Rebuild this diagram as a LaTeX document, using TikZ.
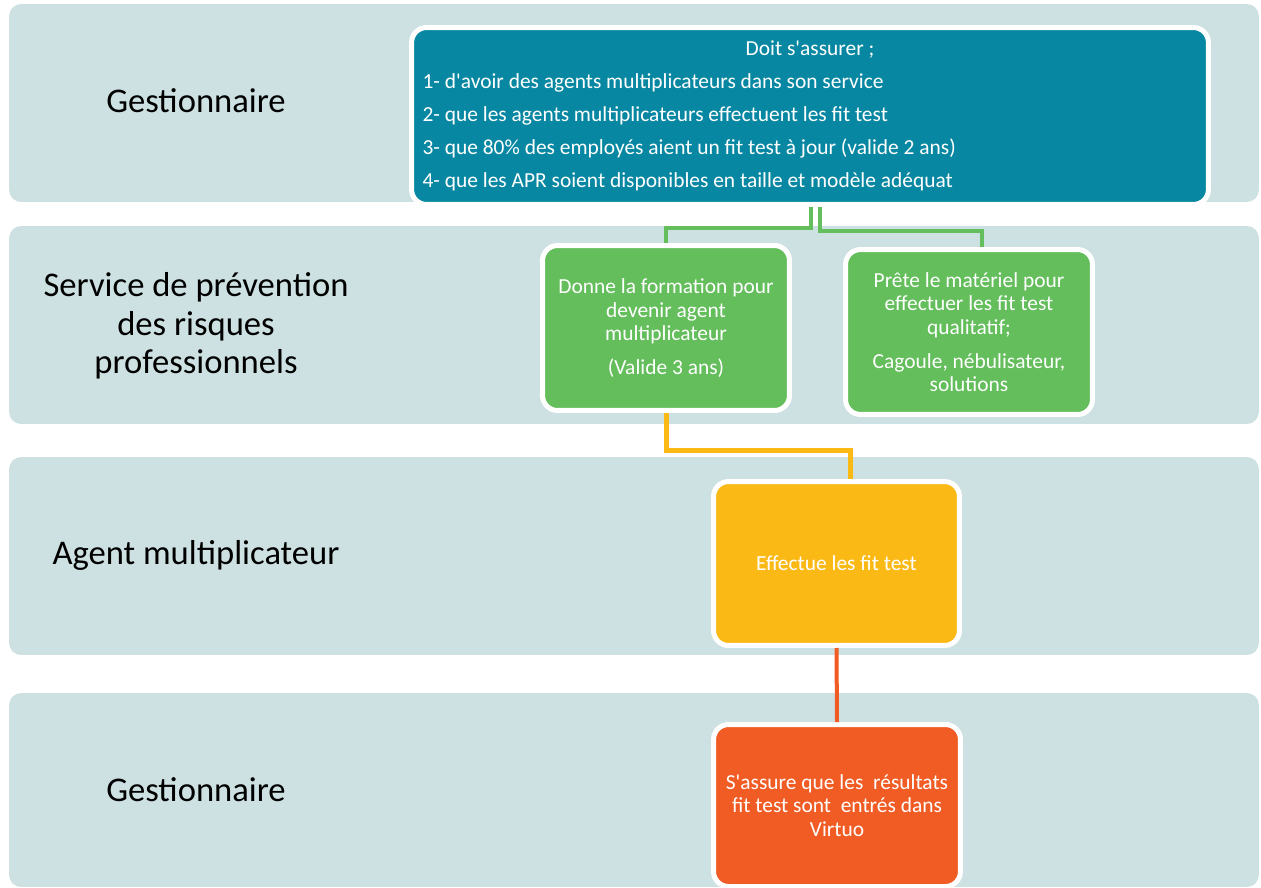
\documentclass[tikz,border=0pt]{standalone}
\usepackage{fontspec}
\setmainfont{Carlito}
\usetikzlibrary{positioning, calc}

\definecolor{lanegray}{RGB}{205,225,226}
\definecolor{dutyteal}{RGB}{8,135,162}
\definecolor{cardgreen}{RGB}{99,190,91}
\definecolor{cardyellow}{RGB}{251,185,22}
\definecolor{cardorange}{RGB}{241,91,36}

\begin{document}
\begin{tikzpicture}[
    x=0.02cm, y=-0.02cm,
    lane/.style={rectangle, fill=lanegray, rounded corners=0.24cm, minimum width=25cm, minimum height=3.96cm},
    role/.style={align=center, font=\fontsize{19.7}{21.8}\selectfont, text=black},
    card/.style={rectangle, draw=white, line width=0.1cm, rounded corners=0.3cm, text=white, align=center, font=\fontsize{12.2}{13.3}\selectfont, minimum width=4.94cm, minimum height=3.3cm},
    duty/.style={card, fill=dutyteal, minimum width=15.94cm, minimum height=3.54cm, text width=15.5cm, inner xsep=0pt, align=none, font=\fontsize{12.2}{18.7}\selectfont},
    greenlink/.style={draw=cardgreen, line width=0.08cm},
    yellowlink/.style={draw=cardyellow, line width=0.1cm},
    orangelink/.style={draw=cardorange, line width=0.08cm}
]
\useasboundingbox (0,0) rectangle (1261,887);

% Lanes
\node[lane] (lane1) at (634,103) {};
\node[lane] (lane2) at (634,325) {};
\node[lane] (lane3) at (634,556) {};
\node[lane, minimum height=3.88cm] (lane4) at (634,790) {};

% Roles
\node[role] (gest1) at (196,101) {Gestionnaire};
\node[role] (sprp) at (196,326) {Service de prévention\\des risques\\professionnels};
\node[role] (agent) at (196,555) {Agent multiplicateur};
\node[role] (gest2) at (196,790) {Gestionnaire};

% Cards
\node[duty] (duty) at (810,116) {\centering Doit s\textquotesingle assurer ;\par\raggedright
    1- d\textquotesingle avoir des agents multiplicateurs dans son service\par
    2- que les agents multiplicateurs effectuent les fit test\par
    3- que 80\% des employés aient un fit test à jour (valide 2 ans)\par
    4- que les APR soient disponibles en taille et modèle adéquat};
\node[card, fill=cardgreen] (train) at (666,328) {Donne la formation pour\\devenir agent\\multiplicateur\\[6pt](Valide 3 ans)};
\node[card, fill=cardgreen] (lend) at (969,332) {Prête le matériel pour\\effectuer les fit test\\qualitatif;\\[6pt]Cagoule, nébulisateur,\\solutions};
\node[card, fill=cardyellow, minimum width=4.92cm, minimum height=3.28cm] (fittest) at (836.5,563.5) {Effectue les fit test};
\node[card, fill=cardorange, minimum height=3.24cm] (virtuo) at (837,805.5) {S\textquotesingle assure que les~ résultats\\fit test sont~ entrés dans\\Virtuo};

% Links
\draw[greenlink] ([xshift=0.02cm]duty.south) -- ++(0,21.5) -| (train.north);
\draw[greenlink] ([xshift=0.2cm]duty.south) -- ++(0,24.5) -| ([xshift=0.26cm]lend.north);
\draw[yellowlink] (train.south) -- ++(0,37.5) -| ([xshift=0.27cm]fittest.north);
\draw[orangelink] (fittest.south) -- (virtuo.north);

\end{tikzpicture}
\end{document}
